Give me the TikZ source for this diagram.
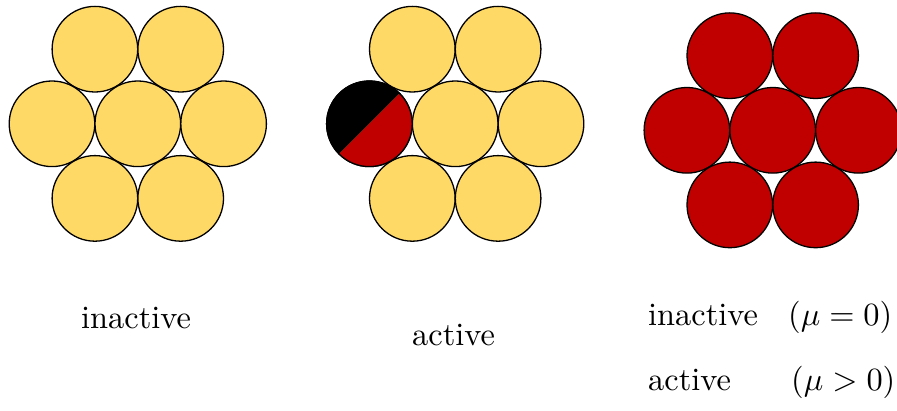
\documentclass[tikz,border=0pt]{standalone}
\usetikzlibrary{calc}
\definecolor{gold}{RGB}{255,217,102}
\definecolor{dred}{RGB}{192,0,0}
\begin{document}
\begin{tikzpicture}[x=0.3086pt,y=0.3086pt,
  ball/.style={draw=black, line width=0.4pt},
  lbl/.style={inner sep=0pt, anchor=base west}]
\useasboundingbox (0,0) rectangle (897,410);
\def\dd{85.8}\def\hh{74.6}\def\rr{42.8}
\coordinate (g1) at (137.8,286.2);
\coordinate (g2) at (455.2,286.2);
\coordinate (g3) at (772.7,279.7);
\foreach \g/\col in {g1/gold, g2/gold, g3/dred} {
  \foreach \dx/\dy in {-0.5/1, 0.5/1, -1/0, 0/0, 1/0, -0.5/-1, 0.5/-1} {
    \filldraw[ball, fill=\col] ($(\g)+(\dx*\dd,\dy*\hh)$) circle[radius=\rr];
  }
}
% half black / half red ball in the middle group
\coordinate (hb) at ($(g2)+(-\dd,0)$);
\fill[black] (hb) ++(45:\rr) arc[start angle=45, end angle=225, radius=\rr] -- cycle;
\fill[dred] (hb) ++(225:\rr) arc[start angle=225, end angle=405, radius=\rr] -- cycle;
\draw[line width=0.4pt] (hb) circle[radius=\rr];
% labels
\node[lbl] (t1) at (80.5,82) {inactive};
\node[lbl] (t2) at (411.5,65) {active};
\node[lbl] (t3) at (647.5,85) {inactive};
\node[lbl] (t4) at (787.5,85) {$(\mu=0)$};
\node[lbl] (t5) at (647.5,20) {active};
\node[lbl] (t6) at (790.5,20) {$(\mu>0)$};
\end{tikzpicture}
\end{document}
